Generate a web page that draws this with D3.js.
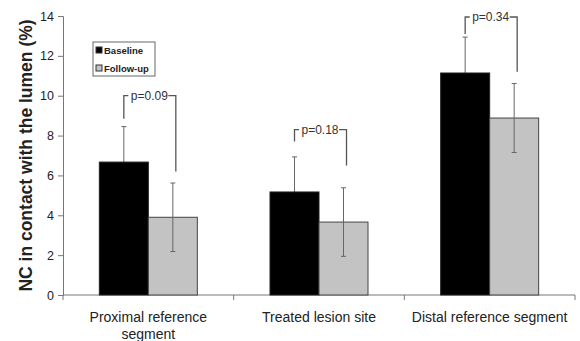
<!DOCTYPE html>
<html>
<head>
<meta charset="utf-8">
<script src="https://cdn.jsdelivr.net/npm/d3@7"></script>
<style>
  body { margin: 0; background: #fff; }
  svg { display: block; font-family: Arial, "Liberation Sans", sans-serif; }
</style>
</head>
<body>
<svg id="chart" width="580" height="341"></svg>
<script>
// data
var categories = [["Proximal reference", "segment"], ["Treated lesion site"], ["Distal reference segment"]];
var seriesNames = ["Baseline", "Follow-up"];
var baselineMean = [6.67, 5.17, 11.14];
var baselineSD = [1.78, 1.76, 1.8];
var followupMean = [3.9, 3.66, 8.88];
var followupSD = [1.72, 1.72, 1.73];
var pLabels = ["p=0.09", "p=0.18", "p=0.34"];
var pTop = [10.0, 8.3, 13.95];     // bracket level
var pLeftEnd = [8.85, 7.7, 13.1];   // where left leg stops
var pRightEnd = [6.2, 6.5, 11.2];   // where right leg stops
var yTicks = [0, 2, 4, 6, 8, 10, 12, 14];

function draw_chart() {
    var svg = d3.select("svg");
    var margin = { top: 16, right: 5, bottom: 46, left: 63 };
    var width = +svg.attr("width") - margin.left - margin.right;
    var height = +svg.attr("height") - margin.top - margin.bottom;

    var idx = categories.map(function (d, i) { return i; });

    var x = d3.scaleBand()
        .range([0, width])
        .padding(0)
        .domain(idx);

    var y = d3.scaleLinear()
        .range([height, 0])
        .domain([0, 14]);

    var barW = 49;

    var g = svg.append("g")
        .attr("transform", "translate(" + margin.left + "," + margin.top + ")");

    // y axis
    var ya = g.append("g")
        .call(d3.axisLeft(y).tickValues(yTicks).tickSize(5).tickPadding(4));
    ya.select(".domain").attr("stroke", "#777");
    ya.selectAll(".tick line").attr("stroke", "#777");
    ya.selectAll("text").attr("font-size", 12.5).attr("fill", "#222");

    // x axis line with ticks at band edges
    g.append("line")
        .attr("x1", 0).attr("x2", width)
        .attr("y1", height).attr("y2", height)
        .attr("stroke", "#777");
    g.selectAll(".xtick")
        .data(idx.concat([categories.length]))
        .enter().append("line")
        .attr("x1", function (d) { return d * x.bandwidth(); })
        .attr("x2", function (d) { return d * x.bandwidth(); })
        .attr("y1", height).attr("y2", height + 5)
        .attr("stroke", "#777");

    // category labels
    var lab = g.selectAll(".catlab")
        .data(categories)
        .enter().append("text")
        .attr("text-anchor", "middle")
        .attr("font-size", 14)
        .attr("fill", "#222")
        .attr("x", function (d, i) { return x(i) + x.bandwidth() / 2; })
        .attr("y", height + 27);
    lab.selectAll("tspan")
        .data(function (d) { return d; })
        .enter().append("tspan")
        .attr("x", function () { return +d3.select(this.parentNode).attr("x"); })
        .attr("dy", function (d, j) { return j === 0 ? 0 : 17; })
        .text(function (d) { return d; });

    function cx(i, s) {
        var c = x(i) + x.bandwidth() / 2;
        return s === 0 ? c - barW : c;
    }

    var series = [
        { mean: baselineMean, sd: baselineSD, fill: "#000", stroke: "#222" },
        { mean: followupMean, sd: followupSD, fill: "#c3c3c3", stroke: "#444" }
    ];

    function errorBars(s, si) {
        var eg = g.selectAll(".err" + si)
            .data(s.mean)
            .enter().append("g");
        eg.append("line")
            .attr("x1", function (d, i) { return cx(i, si) + barW / 2; })
            .attr("x2", function (d, i) { return cx(i, si) + barW / 2; })
            .attr("y1", function (d, i) { return y(d - s.sd[i]); })
            .attr("y2", function (d, i) { return y(d + s.sd[i]); })
            .attr("stroke", "#666");
        [1, -1].forEach(function (sign) {
            eg.append("line")
                .attr("x1", function (d, i) { return cx(i, si) + barW / 2 - 2.5; })
                .attr("x2", function (d, i) { return cx(i, si) + barW / 2 + 2.5; })
                .attr("y1", function (d, i) { return y(d + sign * s.sd[i]); })
                .attr("y2", function (d, i) { return y(d + sign * s.sd[i]); })
                .attr("stroke", "#666");
        });
    }

    // baseline error bars sit behind the black bars
    errorBars(series[0], 0);

    series.forEach(function (s, si) {
        g.selectAll(".bar" + si)
            .data(s.mean)
            .enter().append("rect")
            .attr("x", function (d, i) { return cx(i, si); })
            .attr("y", function (d) { return y(d); })
            .attr("width", barW)
            .attr("height", function (d) { return height - y(d); })
            .attr("fill", s.fill)
            .attr("stroke", s.stroke)
            .attr("stroke-width", 1);
    });

    errorBars(series[1], 1);

    // p-value brackets
    var br = g.selectAll(".bracket")
        .data(pLabels)
        .enter().append("g");
    br.append("path")
        .attr("fill", "none")
        .attr("stroke", "#555")
        .attr("stroke-width", 1.3)
        .attr("d", function (d, i) {
            var xl = cx(i, 0) + barW / 2;
            var xr = cx(i, 1) + barW / 2 + 3;
            return "M" + xl + "," + y(pLeftEnd[i]) + "V" + y(pTop[i]) + "H" + xr + "V" + y(pRightEnd[i]);
        });
    br.append("rect")
        .attr("x", function (d, i) { return x(i) + x.bandwidth() / 2 - 20; })
        .attr("y", function (d, i) { return y(pTop[i]) - 2; })
        .attr("width", 40)
        .attr("height", 4)
        .attr("fill", "#fff");
    br.append("text")
        .attr("text-anchor", "middle")
        .attr("font-size", 12)
        .attr("fill", "#333")
        .attr("x", function (d, i) { return x(i) + x.bandwidth() / 2 + 1; })
        .attr("y", function (d, i) { return y(pTop[i]) + 4; })
        .text(function (d) { return d; });

    // legend
    var lg = svg.append("g").attr("transform", "translate(93,42)");
    lg.append("rect")
        .attr("width", 62).attr("height", 34)
        .attr("fill", "#fff").attr("stroke", "#666");
    series.forEach(function (s, si) {
        lg.append("rect")
            .attr("x", 3).attr("y", 5 + si * 18)
            .attr("width", 6).attr("height", 6)
            .attr("fill", s.fill).attr("stroke", "#333");
        lg.append("text")
            .attr("x", 11).attr("y", 11.5 + si * 18)
            .attr("font-size", 9.5)
            .attr("font-weight", "bold")
            .attr("fill", "#222")
            .text(seriesNames[si]);
    });

    // y label
    svg.append("text")
        .attr("transform", "translate(32," + (margin.top + height / 2) + ") rotate(-90)")
        .attr("text-anchor", "middle")
        .attr("font-size", 17.5)
        .attr("font-weight", "bold")
        .attr("fill", "#222")
        .text("NC in contact with the lumen (%)");
}

draw_chart();
</script>
</body>
</html>
